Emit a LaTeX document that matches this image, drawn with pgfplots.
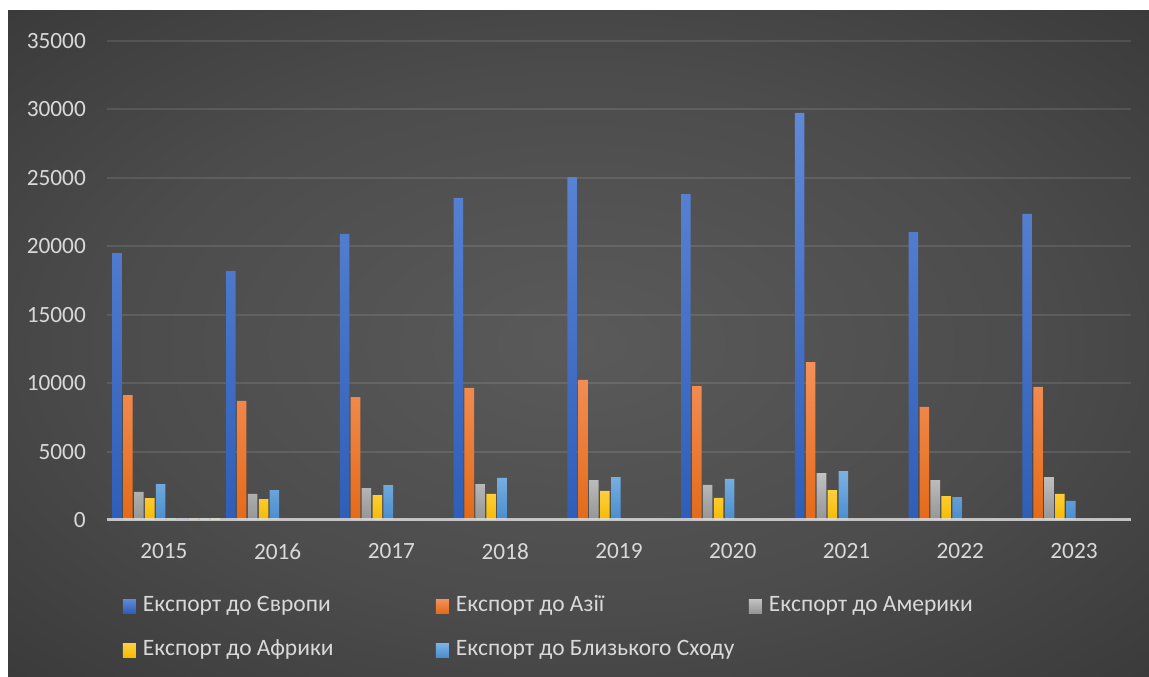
\documentclass[border=0pt]{standalone}
\usepackage{pgfplots}
\pgfplotsset{compat=1.18}
\usepackage{pgfplotstable}
\usepackage{fontspec}
\setmainfont{Carlito}

\definecolor{txt}{HTML}{D9D9D9}
\definecolor{bgc0}{HTML}{5A5A5A}
\definecolor{bgc1}{HTML}{4C4C4C}
\definecolor{bgc2}{HTML}{303030}
\definecolor{bgc3}{HTML}{262626}
\definecolor{euT}{HTML}{6089D8}\definecolor{euB}{HTML}{2F5EB8}
\definecolor{asT}{HTML}{F4915A}\definecolor{asB}{HTML}{E46A18}
\definecolor{amT}{HTML}{C2C2C2}\definecolor{amB}{HTML}{959595}
\definecolor{afT}{HTML}{FFD040}\definecolor{afB}{HTML}{F5BB00}
\definecolor{meT}{HTML}{7DB3E3}\definecolor{meB}{HTML}{4A8DCE}
\pgfdeclareradialshading{bgshade}{\pgfpoint{0bp}{0bp}}{color(0bp)=(bgc0); color(20bp)=(bgc1); color(45bp)=(bgc2); color(72bp)=(bgc3)}

\pgfplotstableread{
x eu as am af me
0 19500 9130 2050 1600 2620
1 18180 8700 1900 1520 2190
2 20900 8980 2330 1820 2550
3 23530 9650 2630 1900 3070
4 25060 10230 2920 2120 3140
5 23820 9790 2560 1610 3000
6 29740 11540 3430 2190 3580
7 21040 8260 2920 1750 1680
8 22360 9720 3140 1900 1390
}\data

\begin{document}
\begin{tikzpicture}
\fill[white] (0pt,0pt) rectangle (1149pt,677pt);
\shade[shading=bgshade] (8pt,0pt) rectangle (1149pt,666pt);
\begin{axis}[
  at={(107pt,157pt)}, anchor=south west,
  scale only axis, width=1024pt, height=479pt,
  xmin=-0.5, xmax=8.5, ymin=0, ymax=35000,
  xtick={0,...,8}, xticklabels={2015,2016,2017,2018,2019,2020,2021,2022,2023},
  ytick={0,5000,...,35000},
  scaled y ticks=false,
  /pgf/number format/1000 sep={},
  /pgf/number format/assume math mode=true,
  axis line style={draw=none},
  tick style={draw=none}, major tick length=0pt,
  ymajorgrids, grid style={white, opacity=0.1, line width=2pt},
  ticklabel style={font=\fontsize{23.3}{27}\selectfont, text=txt, inner sep=0pt},
  yticklabel style={anchor=east, xshift=-21pt},
  xticklabel style={anchor=north, yshift=-23.3pt},
  ybar, bar width=0.084,
  legend columns=3,
  legend image code/.code={\fill[#1] (0pt,-7pt) rectangle (13pt,7pt);},
  legend style={at={(rel axis cs:0.0156,-0.158)}, anchor=north west,
    draw=none, fill=none, inner sep=0pt, outer sep=0pt,
    font=\fontsize{23.5}{27}\selectfont, text=txt,
    /tikz/every odd column/.style={column sep=7pt},
    row sep=23pt,
    nodes={inner sep=0pt, text height=16pt, text depth=5pt}},
  clip=false,
]
\addplot[draw=none, top color=euT, bottom color=euB, bar shift=-0.412] table[x=x,y=eu]{\data};
\addlegendentry{\makebox[293pt][l]{Експорт до Європи}}
\addplot[draw=none, top color=asT, bottom color=asB, bar shift=-0.316] table[x=x,y=as]{\data};
\addlegendentry{\makebox[293pt][l]{Експорт до Азії}}
\addplot[draw=none, top color=amT, bottom color=amB, bar shift=-0.220] table[x=x,y=am]{\data};
\addlegendentry{\makebox[293pt][l]{Експорт до Америки}}
\addplot[draw=none, top color=afT, bottom color=afB, bar shift=-0.124] table[x=x,y=af]{\data};
\addlegendentry{\makebox[293pt][l]{Експорт до Африки}}
\addplot[draw=none, top color=meT, bottom color=meB, bar shift=-0.028] table[x=x,y=me]{\data};
\addlegendentry{\makebox[293pt][l]{Експорт до Близького Сходу}}
\addplot[draw=none, fill=green!40!gray, bar shift=0.068, forget plot] coordinates {(0,150)};
\addplot[draw=none, fill=blue!30!gray, bar shift=0.164, forget plot] coordinates {(0,150)};
\addplot[draw=none, fill=orange!40!gray, bar shift=0.260, forget plot] coordinates {(0,150)};
\addplot[draw=none, fill=gray!80, bar shift=0.356, forget plot] coordinates {(0,150)};
\addplot[draw=none, fill=yellow!50!gray, bar shift=0.452, forget plot] coordinates {(0,150)};
\draw[line width=3pt, color=white!75!gray, opacity=0.8] (axis cs:-0.5,0) -- (axis cs:8.5,0);
\end{axis}
\end{tikzpicture}
\end{document}
